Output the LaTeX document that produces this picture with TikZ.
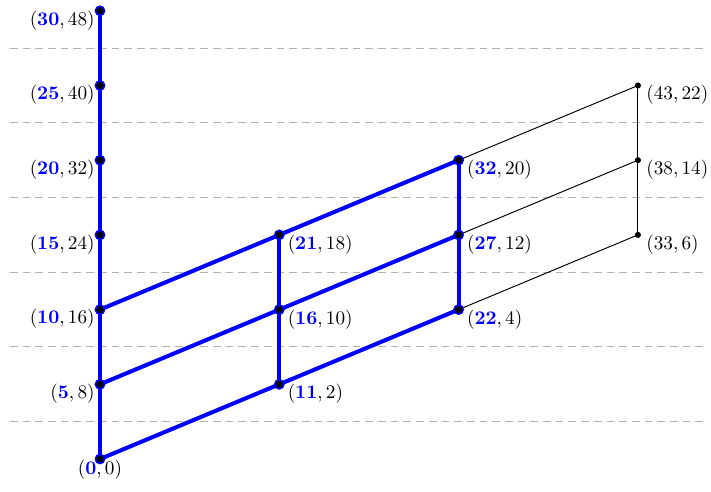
\documentclass[tikz,border=0pt]{standalone}
\usetikzlibrary{backgrounds}
\newcommand{\mylab}[2]{$(\textcolor{blue}{\mathbf{#1}},#2)$}
\begin{document}
\begin{tikzpicture}[x=0.52pt,y=0.52pt,
 bnode/.style={circle,fill=black,draw=blue,line width=0.8pt,inner sep=0pt,minimum size=4.8pt},
 knode/.style={circle,fill=black,inner sep=0pt,minimum size=3.2pt},
 bline/.style={blue,line width=2.1pt},
 kline/.style={black,line width=0.5pt},
 gridline/.style={black!30,dash pattern=on 4pt off 2.6pt,line width=0.5pt},
 labL/.style={anchor=north east,inner sep=0pt,xshift=-2.6pt,yshift=0.3pt},
 labR/.style={anchor=north west,inner sep=0pt,xshift=4.2pt,yshift=0.2pt},
 labB/.style={anchor=north,inner sep=0pt,yshift=-0.5pt}
]
\useasboundingbox (0,0) rectangle (711,491);
% column 0
\node[bnode] (a0) at (100,32) {};
\node[bnode] (a1) at (100,106.7) {};
\node[bnode] (a2) at (100,181.4) {};
\node[bnode] (a3) at (100,256.1) {};
\node[bnode] (a4) at (100,330.8) {};
\node[bnode] (a5) at (100,405.5) {};
\node[bnode] (a6) at (100,480.2) {};
% column 1
\node[bnode] (b1) at (279.3,106.7) {};
\node[bnode] (b2) at (279.3,181.4) {};
\node[bnode] (b3) at (279.3,256.1) {};
% column 2
\node[bnode] (c2) at (458.6,181.4) {};
\node[bnode] (c3) at (458.6,256.1) {};
\node[bnode] (c4) at (458.6,330.8) {};
% column 3
\node[knode] (d3) at (637.9,256.1) {};
\node[knode] (d4) at (637.9,330.8) {};
\node[knode] (d5) at (637.9,405.5) {};
% labels
\node[labB] (la0) at (a0) {\mylab{0}{0}};
\node[labL] (la1) at (a1) {\mylab{5}{8}};
\node[labL] (la2) at (a2) {\mylab{10}{16}};
\node[labL] (la3) at (a3) {\mylab{15}{24}};
\node[labL] (la4) at (a4) {\mylab{20}{32}};
\node[labL] (la5) at (a5) {\mylab{25}{40}};
\node[labL] (la6) at (a6) {\mylab{30}{48}};
\node[labR] (lb1) at (b1) {\mylab{11}{2}};
\node[labR] (lb2) at (b2) {\mylab{16}{10}};
\node[labR] (lb3) at (b3) {\mylab{21}{18}};
\node[labR] (lc2) at (c2) {\mylab{22}{4}};
\node[labR] (lc3) at (c3) {\mylab{27}{12}};
\node[labR] (lc4) at (c4) {\mylab{32}{20}};
\node[labR] (ld3) at (d3) {$(33,6)$};
\node[labR] (ld4) at (d4) {$(38,14)$};
\node[labR] (ld5) at (d5) {$(43,22)$};
\begin{scope}[on background layer]
 \foreach \yy in {69.35,144.05,218.75,293.45,368.15,442.85}
   \draw[gridline] (10,\yy) -- (706,\yy);
 \draw[kline] (c2.center) -- (d3.center);
 \draw[kline] (c3.center) -- (d4.center);
 \draw[kline] (c4.center) -- (d5.center);
 \draw[kline] (d3.center) -- (d5.center);
 \draw[bline] (a0.center) -- (a6.center);
 \draw[bline] (b1.center) -- (b3.center);
 \draw[bline] (c2.center) -- (c4.center);
 \draw[bline] (a0.center) -- (b1.center) -- (c2.center);
 \draw[bline] (a1.center) -- (b2.center) -- (c3.center);
 \draw[bline] (a2.center) -- (b3.center) -- (c4.center);
\end{scope}
\end{tikzpicture}
\end{document}
